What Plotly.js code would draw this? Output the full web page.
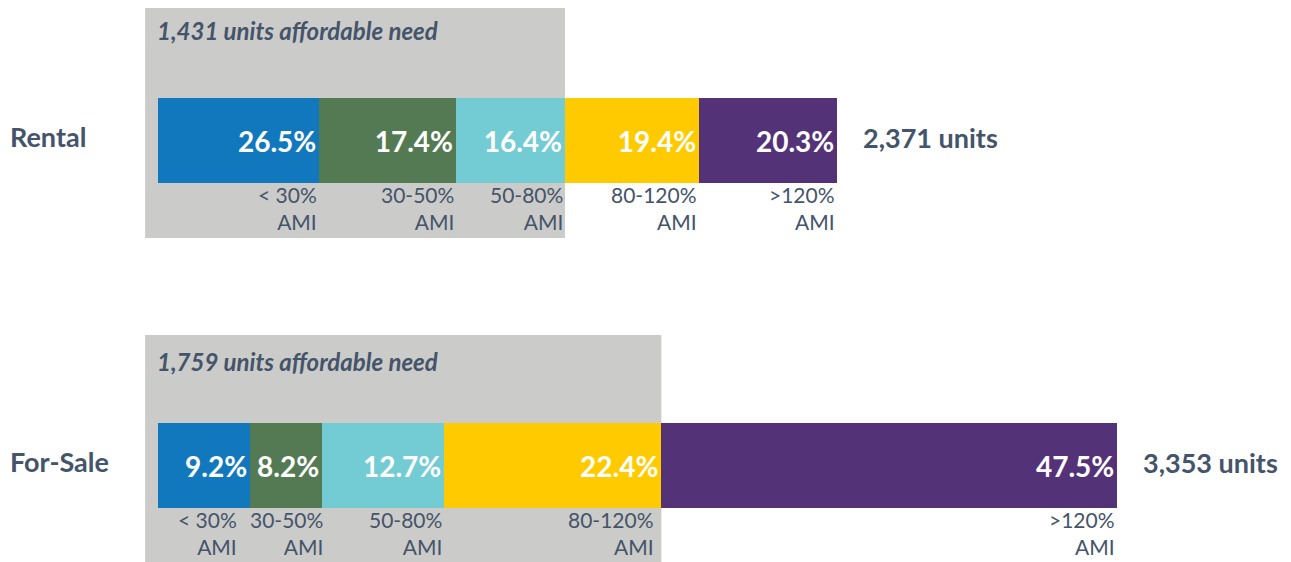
<!DOCTYPE html>
<html>
<head>
<meta charset="utf-8">
<script src="https://cdn.plot.ly/plotly-3.0.1.min.js"></script>
<style>
  html, body { margin: 0; padding: 0; background: #fff; }
  #chart { width: 1291px; height: 562px; }
</style>
</head>
<body>
<div id="chart"></div>
<script>
// --- data ---
const groups = ['Rental', 'For-Sale'];
const totals = [2371, 3353];
const affordableNeed = [1431, 1759];
const affordableBands = [3, 4];   // bands covered by the grey box
const bandLabels = ['< 30%<br>AMI', '30-50%<br>AMI', '50-80%<br>AMI', '80-120%<br>AMI', '>120%<br>AMI'];
// printed shares
const rentalPct = [26.5, 17.4, 16.4, 19.4, 20.3];
const forSalePct = [9.2, 8.2, 12.7, 22.4, 47.5];
// drawn segment lengths (units), as measured on the bars
const rentalUnits = [564, 478, 381, 469, 483];
const forSaleUnits = [322, 252, 427, 759, 1594];
const bandColors = ['#1278be', '#537a52', '#73ccd4', '#ffcb00', '#543277'];

const TEXT = '#44546a';
const FONT = 'Lato, "Open Sans", sans-serif';
const yPos = [1, 0];          // Rental on top, For-Sale below
const barW = 0.2615;
// small nudges so the band labels sit like in the original
const labelNudge = [[0, 0, 0, 0, 0], [-11, 3, 0, -5, 0]];
const captionShift = [68, 62];

const pcts = [rentalPct, forSalePct];
const units = [rentalUnits, forSaleUnits];

function sum(a) { return a.reduce((s, v) => s + v, 0); }

// one stacked trace per AMI band
const traces = bandLabels.map((b, i) => ({
    type: 'bar', orientation: 'h',
    y: yPos,
    x: units.map(u => u[i]),
    text: pcts.map(p => p[i].toFixed(1) + '%'),
    texttemplate: '%{text}',
    textposition: 'inside', insidetextanchor: 'end', constraintext: 'none',
    textfont: { family: FONT, size: 28, color: '#ffffff', weight: 'bold' },
    width: barW,
    marker: { color: bandColors[i] },
    hoverinfo: 'skip'
}));

const annotations = [];
const shapes = [];
groups.forEach((g, gi) => {
    const yc = yPos[gi];
    // group name on the left
    annotations.push({ xref: 'paper', x: 0, xshift: 8, y: yc, yshift: 4, xanchor: 'left', yanchor: 'middle',
        text: '<b>' + g + '</b>', showarrow: false, font: { family: FONT, size: 27, color: TEXT } });
    // total at the bar end
    annotations.push({ x: sum(units[gi]), xshift: 24, y: yc, yshift: 3, xanchor: 'left', yanchor: 'middle',
        text: '<b>' + totals[gi].toLocaleString('en-US') + ' units</b>', showarrow: false,
        font: { family: FONT, size: 27, color: TEXT } });
    // affordable need caption
    annotations.push({ x: 0, xshift: -3, y: yc + barW / 2, yshift: captionShift[gi], xanchor: 'left', yanchor: 'middle',
        text: '<b><i>' + affordableNeed[gi].toLocaleString('en-US') + ' units affordable need</i></b>',
        showarrow: false, font: { family: FONT, size: 24, color: TEXT } });
    // AMI band labels under each segment
    let cum = 0;
    units[gi].forEach((u, i) => {
        cum += u;
        annotations.push({ x: cum, xshift: labelNudge[gi][i], y: yc - barW / 2, yshift: 3,
            xanchor: 'right', yanchor: 'top', align: 'right',
            text: bandLabels[i], showarrow: false,
            font: { family: FONT, size: 21, color: TEXT } });
    });
});

// grey "affordable need" boxes
const boxY = [[0.70, 1.4077], [-0.30, 0.4015]];
groups.forEach((g, gi) => {
    shapes.push({ type: 'rect', layer: 'below', x0: -45,
        x1: sum(units[gi].slice(0, affordableBands[gi])),
        y0: boxY[gi][0], y1: boxY[gi][1],
        fillcolor: '#cbcbc9', line: { width: 0 } });
});

Plotly.newPlot('chart', traces, {
    width: 1291, height: 562,
    margin: { l: 0, r: 0, t: 0, b: 0 },
    paper_bgcolor: '#ffffff', plot_bgcolor: '#ffffff',
    barmode: 'stack', showlegend: false, hovermode: false,
    font: { family: FONT, color: TEXT },
    xaxis: { range: [-552.4, 3961.4], visible: false, showgrid: false, zeroline: false },
    yaxis: { range: [-0.2969, 1.4323], visible: false, showgrid: false, zeroline: false },
    shapes: shapes,
    annotations: annotations
}, { staticPlot: true, displayModeBar: false });
</script>
</body>
</html>
